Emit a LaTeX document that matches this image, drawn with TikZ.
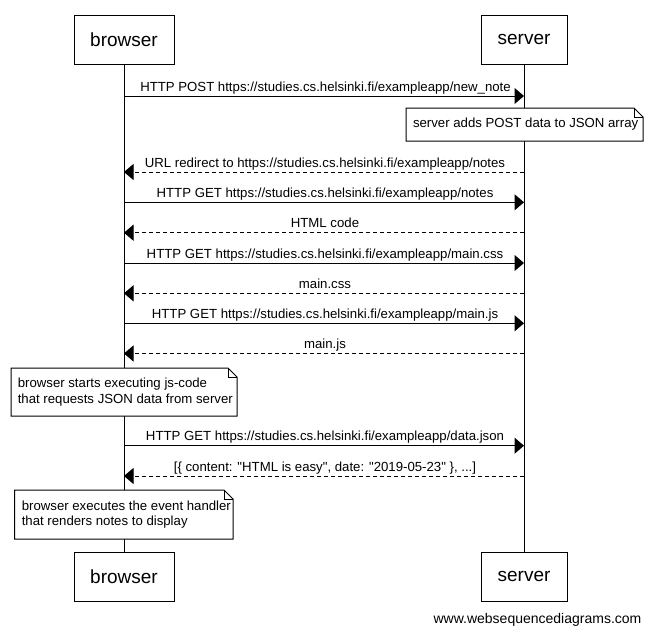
\documentclass[tikz,border=0pt]{standalone}
\usepackage{fontspec}
\setmainfont{Liberation Sans}[Ligatures=TeXOff]
\usetikzlibrary{arrows.meta}
\begin{document}
\begin{tikzpicture}[x=1pt,y=-1pt,line width=1pt,
  actor/.style={draw,fill=white,minimum height=49pt,inner sep=0pt,font=\fontsize{19}{22}\selectfont},
  msg/.style={-{Triangle[length=9.5pt,width=16pt]}},
  reply/.style={msg,dash pattern=on 4pt off 3pt},
  lbl/.style={font=\fontsize{13.2}{15}\selectfont,inner sep=0pt,anchor=base},
  notetext/.style={font=\fontsize{13.2}{15.5}\selectfont,inner sep=0pt,anchor=west,align=left},
  notebox/.style={draw,fill=white},
  foldline/.style={line width=0.8pt},
  lifeline/.style={line width=1pt}]
\useasboundingbox (0,0) rectangle (652,635);
\fill[white] (0,0) rectangle (652,635);

% actors
\node[actor,minimum width=100pt] (bt) at (124,39.5) {browser};
\node[actor,minimum width=86pt] (st) at (524,39.5) {server};
\node[actor,minimum width=100pt] (bb) at (124,576.5) {browser};
\node[actor,minimum width=86pt] (sb) at (524,576.5) {server};

% lifelines
\draw[lifeline] (bt.south) -- (bb.north);
\draw[lifeline] (st.south) -- (sb.north);

% message end points
\foreach \i/\y in {1/96,3/172,4/202.3,5/232.7,6/263,7/293.3,8/323.3,9/353.5,11/445.7,12/476}{
  \coordinate (b\i) at (124,\y);
  \coordinate (s\i) at (524,\y);
}

% notes
\draw[notebox] (406,108) -- (634,108) -- (643,117) -- (643,141) -- (406,141) -- cycle;
\draw[foldline] (634,108) -- (634,117) -- (643,117);
\node[notetext] (n1) at (412.5,124.5) {server adds POST data to JSON array};

\draw[notebox] (11,368) -- (228,368) -- (237,377) -- (237,416) -- (11,416) -- cycle;
\draw[foldline] (228,368) -- (228,377) -- (237,377);
\node[notetext] (n2) at (17.3,392) {browser starts executing js-code\\that requests JSON data from server};

\draw[notebox] (14.5,490) -- (224,490) -- (233,499) -- (233,539) -- (14.5,539) -- cycle;
\draw[foldline] (224,490) -- (224,499) -- (233,499);
\node[notetext] (n3) at (21.3,514.5) {browser executes the event handler\\that renders notes to display};

% messages
\draw[msg] (b1) -- (s1);
\node[lbl] (l1) at (325.5,91) {HTTP POST https://studies.cs.helsinki.fi/exampleapp/new\_note};
\draw[reply] (s3) -- (b3);
\node[lbl] (l3) at (325,167) {URL redirect to https://studies.cs.helsinki.fi/exampleapp/notes};
\draw[msg] (b4) -- (s4);
\node[lbl] (l4) at (325,197.3) {HTTP GET https://studies.cs.helsinki.fi/exampleapp/notes};
\draw[reply] (s5) -- (b5);
\node[lbl] (l5) at (325,227.7) {HTML code};
\draw[msg] (b6) -- (s6);
\node[lbl] (l6) at (325,258) {HTTP GET https://studies.cs.helsinki.fi/exampleapp/main.css};
\draw[reply] (s7) -- (b7);
\node[lbl] (l7) at (325,288.3) {main.css};
\draw[msg] (b8) -- (s8);
\node[lbl] (l8) at (325,318.3) {HTTP GET https://studies.cs.helsinki.fi/exampleapp/main.js};
\draw[reply] (s9) -- (b9);
\node[lbl] (l9) at (325,348.5) {main.js};
\draw[msg] (b11) -- (s11);
\node[lbl] (l11) at (325,440.7) {HTTP GET https://studies.cs.helsinki.fi/exampleapp/data.json};
\draw[reply] (s12) -- (b12);
\node[lbl] (l12) at (325,471) {[\{ content: "HTML is easy", date: "2019-05-23" \}, ...]};

% footer
\node[font=\fontsize{14}{16}\selectfont,inner sep=0pt] (footer) at (537.5,620) {www.websequencediagrams.com};
\end{tikzpicture}
\end{document}
